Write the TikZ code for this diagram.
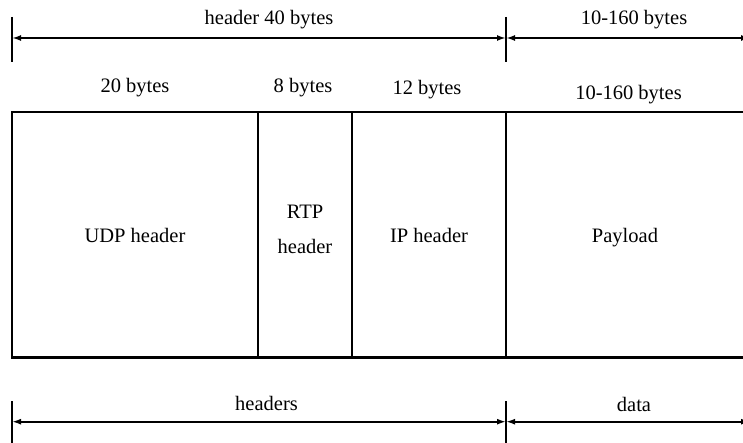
\documentclass[tikz,border=0pt]{standalone}
\usepackage{fontspec}
\setmainfont{Liberation Serif}
\usetikzlibrary{arrows.meta}
\tikzset{
  x=1pt, y=-1pt,
  lbl/.style={inner sep=0pt, anchor=base, font=\fontsize{20.5}{25}\selectfont},
  cell/.style={draw, line width=2.6pt, inner sep=0pt, minimum height=245.7pt,
               font=\fontsize{20.5}{25}\selectfont, align=center},
  tick/.style={line width=1.9pt},
  dim/.style={line width=1.9pt, {Latex[length=9pt,width=6pt]}-{Latex[length=9pt,width=6pt]}},
}
\begin{document}
\begin{tikzpicture}
\useasboundingbox (0,0) rectangle (743,443);
\clip (0,0) rectangle (743,443);

% packet fields
\node[cell, minimum width=246pt] (udp) at (135,234.85) {};
\node[cell, minimum width=94pt]  (rtp) at (305,234.85) {};
\node[cell, minimum width=154pt] (ip)  at (429,234.85) {};
\node[cell, minimum width=260pt] (pay) at (636,234.85) {};
\node[lbl] (udpl) at (135,243) {UDP header};
\node[lbl] (rtpl1) at (305,219) {RTP};
\node[lbl] (rtpl2) at (305,254) {header};
\node[lbl] (ipl) at (429,243) {IP header};
\node[lbl] (payl) at (625,243) {Payload};

% field sizes
\node[lbl] (s1) at (135,93) {20 bytes};
\node[lbl] (s2) at (303,93) {8 bytes};
\node[lbl] (s3) at (427,95) {12 bytes};
\node[lbl] (s4) at (628.5,100) {10-160 bytes};

% upper dimension line
\coordinate (t1a) at (12,17);  \coordinate (t1b) at (12,62);
\coordinate (t2a) at (506,17); \coordinate (t2b) at (506,62);
\coordinate (u1) at (12,38); \coordinate (u2) at (506,38); \coordinate (u3) at (750,38);
\draw[tick] (t1a) -- (t1b);
\draw[tick] (t2a) -- (t2b);
\draw[dim] (u1) -- (u2);
\draw[dim] (u2) -- (u3);
\node[lbl] (hdr) at (269,25) {header 40 bytes};
\node[lbl] (plen) at (634,25) {10-160 bytes};

% lower dimension line
\coordinate (b1a) at (12,401);  \coordinate (b1b) at (12,450);
\coordinate (b2a) at (506,401); \coordinate (b2b) at (506,450);
\coordinate (l1) at (12,421.7); \coordinate (l2) at (506,421.7); \coordinate (l3) at (750,421.7);
\draw[tick] (b1a) -- (b1b);
\draw[tick] (b2a) -- (b2b);
\draw[dim] (l1) -- (l2);
\draw[dim] (l2) -- (l3);
\node[lbl] (hdrs) at (266.5,410.5) {headers};
\node[lbl] (dat) at (634,411.5) {data};
\end{tikzpicture}
\end{document}
